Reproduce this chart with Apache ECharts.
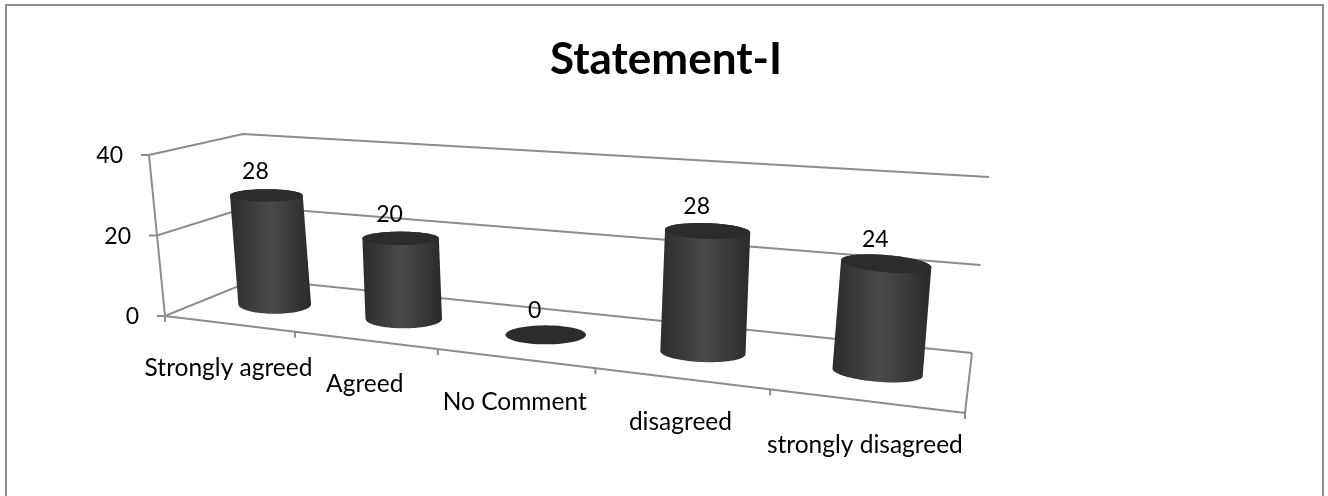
<!DOCTYPE html>
<html>
<head>
<meta charset="utf-8">
<style>html,body{margin:0;padding:0;background:#fff}#c{width:1328px;height:496px}</style>
<script src="https://cdn.jsdelivr.net/npm/echarts@6/dist/echarts.min.js"></script>
</head>
<body>
<div id="c"></div>
<script>
const titleText = 'Statement-I';
const categories = ['Strongly agreed', 'Agreed', 'No Comment', 'disagreed', 'strongly disagreed'];
const seriesValues = [28, 20, 0, 28, 24];
const yTicks = [0, 20, 40];

const FONT = 'Lato, "Open Sans", sans-serif';
const LINE = '#8c8c8c';
// Perspective box: corners of the 3D plot [x,y]; f=front, b=back, l/r, 0=floor, 1=top
const BOX = {
  fl0: [165, 316], fr0: [965, 413], fl1: [149, 155], fr1: [985, 219],
  bl0: [256, 279], br0: [972, 353], bl1: [243, 134], br1: [989, 177]
};
const PERSPECTIVE = 1.288, DEPTH = 0.5, CYL_SHIFT = 4;
const mix = (a, b, t) => [a[0] + (b[0] - a[0]) * t, a[1] + (b[1] - a[1]) * t];
const warp = u => u / (u + PERSPECTIVE * (1 - u));
function project(u, v, d) {
  const t = warp(u);
  const f = mix(mix(BOX.fl0, BOX.fr0, t), mix(BOX.fl1, BOX.fr1, t), v);
  const b = mix(mix(BOX.bl0, BOX.br0, t), mix(BOX.bl1, BOX.br1, t), v);
  return mix(f, b, d);
}
function norm(api, cat, val) {
  const p = api.coord([cat, val]);
  return [p[0] / api.getWidth(), 1 - p[1] / api.getHeight()];
}
const line = (pts, w) => ({
  type: 'polyline', shape: { points: pts },
  style: { stroke: LINE, lineWidth: w || 2, fill: null }
});
const text = (s, x, y, size, align) => ({
  type: 'text',
  style: { text: s, x, y, fill: '#000', font: size + 'px ' + FONT, align: align || 'center', verticalAlign: 'middle' }
});

function renderFrame(params, api) {
  const tick = api.value(1);
  const v = norm(api, 0, tick)[1];
  const a = project(0, v, 0), b = project(0, v, 1), c = project(1, v, 1);
  const kids = [line([[a[0] - 8, a[1]], a, b, c])];
  kids.push(text(String(tick), a[0] - 26, a[1] + 1, 23, 'right'));
  if (params.dataIndex === 0) {
    kids.push(line([project(0, 0, 0), project(0, 1, 0)]));
    kids.push(line([c, project(1, 0, 0)]));
    kids.push(line([project(0, 0, 0), project(1, 0, 0)]));
    for (let i = 0; i <= categories.length; i++) {
      const p = project(i / categories.length, 0, 0);
      kids.push(line([p, [p[0], p[1] + 6]]));
    }
  }
  return { type: 'group', children: kids };
}

function ellipsePts(center, slope, a, b, from, to, n) {
  const out = [];
  for (let i = 0; i <= n; i++) {
    const th = from + (to - from) * i / n;
    out.push([center[0] + a * Math.cos(th), center[1] + a * Math.cos(th) * slope + b * Math.sin(th)]);
  }
  return out;
}
function renderCyl(params, api) {
  const i = api.value(0), val = api.value(1);
  const [u, v] = norm(api, i, val);
  const t = warp(u);
  const a = 35.5 + 11 * t;
  const slope = Math.max(0, t - 0.45) * 0.19;
  const bot = project(u, 0, DEPTH), top = project(u, v, DEPTH);
  bot[0] += CYL_SHIFT; top[0] += CYL_SHIFT;
  const bBot = 9.5, bTop = val === 0 ? 9.5 : 6 + 3 * t;
  const kids = [];
  if (val > 0) {
    const body = ellipsePts(bot, slope, a, bBot, Math.PI, 0, 40)
      .concat(ellipsePts(top, slope, a, bTop, 0, -Math.PI, 40));
    kids.push({
      type: 'polygon', shape: { points: body },
      style: {
        fill: {
          type: 'linear', x: 0, y: 0, x2: 1, y2: 0,
          colorStops: [{ offset: 0, color: '#2c2c2c' }, { offset: .5, color: '#4a4a4a' }, { offset: 1, color: '#2a2a2a' }]
        }
      }
    });
  }
  kids.push({
    type: 'polygon', shape: { points: ellipsePts(top, slope, a, bTop, 0, Math.PI * 2, 60) },
    style: { fill: '#2c2c2c' }
  });
  kids.push(text(String(val), top[0] - 11, top[1] - 24, 23));
  const fp = project(u, 0, 0);
  kids.push(text(categories[i], fp[0], fp[1] + 44, 24.5));
  return { type: 'group', children: kids };
}

const chart = echarts.init(document.getElementById('c'), null, { renderer: 'canvas' });
chart.setOption({
  animation: false,
  backgroundColor: '#fff',
  title: {
    text: titleText, left: 661, top: 33, textAlign: 'center',
    textStyle: { fontFamily: FONT, fontWeight: 'bold', fontSize: 44, color: '#000' }
  },
  graphic: [{
    type: 'rect', silent: true, z: 0,
    shape: { x: 6, y: 5, width: 1317, height: 500 },
    style: { fill: null, stroke: '#8e8e8e', lineWidth: 2 }
  }],
  grid: { left: 0, right: 0, top: 0, bottom: 0 },
  xAxis: { type: 'category', data: categories, show: false },
  yAxis: { type: 'value', min: 0, max: 40, interval: 20, show: false },
  series: [
    { type: 'custom', z: 1, clip: false, renderItem: renderFrame, silent: true,
      data: yTicks.map(t => [0, t]) },
    { type: 'custom', z: 2, clip: false, renderItem: renderCyl, silent: true,
      data: seriesValues.map((v, i) => [i, v]) }
  ]
});
</script>
</body>
</html>
